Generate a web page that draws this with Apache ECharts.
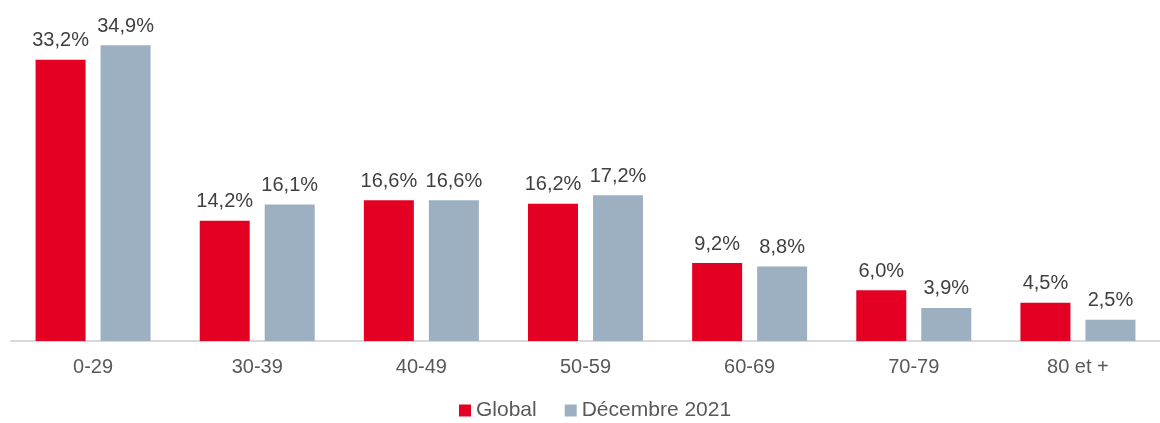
<!DOCTYPE html>
<html>
<head>
<meta charset="utf-8">
<script src="https://cdn.jsdelivr.net/npm/echarts@6/dist/echarts.min.js"></script>
<style>
  html, body { margin: 0; padding: 0; background: #fff; }
  #chart { width: 1160px; height: 423px; }
</style>
</head>
<body>
<div id="chart"></div>
<script>
  var categories = ['0-29', '30-39', '40-49', '50-59', '60-69', '70-79', '80 et +'];
  var globalValues = [33.2, 14.2, 16.6, 16.2, 9.2, 6.0, 4.5];
  var decembreValues = [34.9, 16.1, 16.6, 17.2, 8.8, 3.9, 2.5];
  var seriesNames = ['Global', 'Décembre 2021'];

  var font = '"Liberation Sans", Arial, sans-serif';

  function pct(p) {
    return p.value.toFixed(1).replace('.', ',') + '%';
  }

  var myChart = echarts.init(document.getElementById('chart'));
  var option = {
    animation: false,
    textStyle: { fontFamily: font },
    legend: {
      bottom: -3,
      left: 454,
      itemWidth: 12,
      itemHeight: 12,
      itemGap: 28,
      icon: 'rect',
      textStyle: { fontSize: 21, color: '#595959', fontFamily: font },
      data: seriesNames
    },
    grid: { left: 11, right: 0, top: 2, bottom: 82 },
    xAxis: {
      type: 'category',
      data: categories,
      axisLine: { lineStyle: { color: '#d9d9d9', width: 2 } },
      axisTick: { show: false },
      axisLabel: { fontSize: 20, color: '#595959', margin: 16, fontFamily: font }
    },
    yAxis: {
      type: 'value',
      min: 0,
      max: 40,
      show: false,
      splitLine: { show: false }
    },
    series: [
      {
        name: seriesNames[0],
        type: 'bar',
        barWidth: 50,
        barGap: '30%',
        itemStyle: { color: '#e30022' },
        label: { show: true, position: 'top', distance: 9, fontSize: 20, color: '#404040', fontFamily: font, formatter: pct },
        data: globalValues
      },
      {
        name: seriesNames[1],
        type: 'bar',
        barWidth: 50,
        itemStyle: { color: '#9db0c1' },
        label: { show: true, position: 'top', distance: 9, fontSize: 20, color: '#404040', fontFamily: font, formatter: pct },
        data: decembreValues
      }
    ]
  };
  myChart.setOption(option);
</script>
</body>
</html>
